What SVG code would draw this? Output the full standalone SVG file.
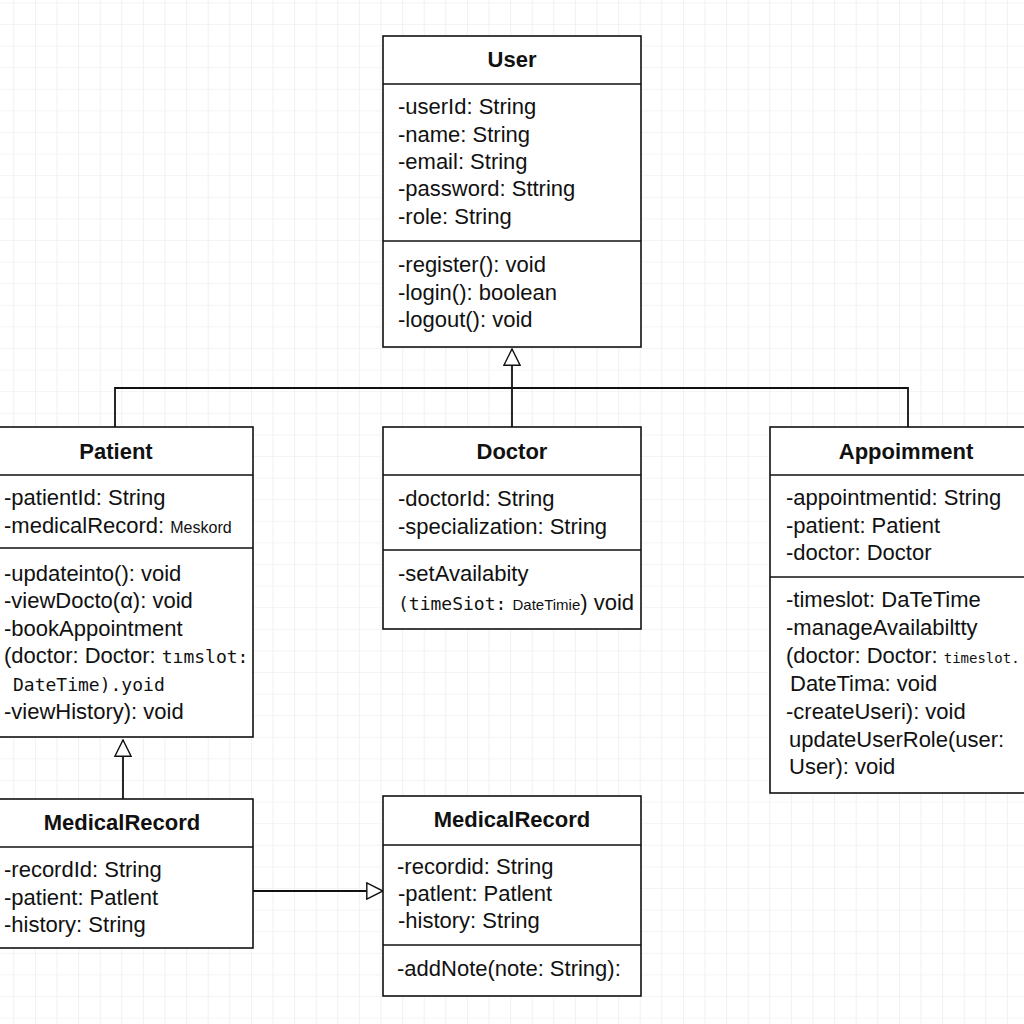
<svg xmlns="http://www.w3.org/2000/svg" width="1024" height="1024" viewBox="0 0 1024 1024">
<defs>
<pattern id="grid" patternUnits="userSpaceOnUse" x="13.3" y="2.4" width="21.6" height="21.6">
<path d="M0 0 H21.6 M0 0 V21.6" fill="none" stroke="#e9e9e9" stroke-width="1.2"/>
</pattern>
<marker id="tri" viewBox="0 0 20 20" refX="19" refY="10" markerWidth="18" markerHeight="18" markerUnits="userSpaceOnUse" orient="auto">
<path d="M1 1 L19 10 L1 19 Z" fill="#fff" stroke="#111" stroke-width="1.6"/>
</marker>
</defs>
<style>
.box{fill:#fff;stroke:#111;stroke-width:1.6}
.div{stroke:#111;stroke-width:1.6}
.t{font-family:"Liberation Sans",Arial,sans-serif;font-size:22px;font-weight:bold;fill:#111;text-anchor:middle}
.a{font-family:"Liberation Sans",Arial,sans-serif;font-size:22px;fill:#111}
.s{font-size:16px}
.m{font-family:"DejaVu Sans Mono",monospace;font-size:18px}
.ms{font-family:"DejaVu Sans Mono",monospace;font-size:14px}
.cn{font-family:"Liberation Sans Narrow","Liberation Sans",sans-serif;font-size:15px}
.conn{fill:none;stroke:#111;stroke-width:1.8}
</style>
<rect width="1024" height="1024" fill="#fff"/>
<rect width="1024" height="1024" fill="url(#grid)"/>

<g id="connectors">
<path class="conn" d="M512 427 V349" marker-end="url(#tri)"/>
<path class="conn" d="M115 427 V388 H908 V427"/>
<path class="conn" d="M123 799 V740" marker-end="url(#tri)"/>
<path class="conn" d="M253 891 H383" marker-end="url(#tri)"/>
</g>

<g id="User">
<rect class="box" x="383" y="36" width="258" height="311"/>
<line class="div" x1="383" y1="84" x2="641" y2="84"/>
<line class="div" x1="383" y1="241" x2="641" y2="241"/>
<text class="t" x="512" y="67">User</text>
<text class="a" x="398" y="114">-userId: String</text>
<text class="a" x="398" y="142">-name: String</text>
<text class="a" x="398" y="169">-email: String</text>
<text class="a" x="398" y="196">-password: Sttring</text>
<text class="a" x="398" y="224">-role: String</text>
<text class="a" x="398" y="272">-register(): void</text>
<text class="a" x="398" y="300">-login(): boolean</text>
<text class="a" x="398" y="327">-logout(): void</text>
</g>

<g id="Patient">
<rect class="box" x="-2" y="427" width="255" height="310"/>
<line class="div" x1="-2" y1="475" x2="253" y2="475"/>
<line class="div" x1="-2" y1="548" x2="253" y2="548"/>
<text class="t" x="116" y="459">Patient</text>
<text class="a" x="4" y="505">-patientId: String</text>
<text class="a" x="4" y="533">-medicalRecord: <tspan class="s">Meskord</tspan></text>
<text class="a" x="4" y="581">-updateinto(): void</text>
<text class="a" x="4" y="608">-viewDocto(α): void</text>
<text class="a" x="4" y="636">-bookAppointment</text>
<text class="a" x="4" y="663">(doctor: Doctor: <tspan class="m" font-size="17">tımslot:</tspan></text>
<text class="a m" x="13" y="691" font-size="19">DateTime).yoid</text>
<text class="a" x="4" y="719">-viewHistory): void</text>
</g>

<g id="Doctor">
<rect class="box" x="383" y="427" width="258" height="202"/>
<line class="div" x1="383" y1="475" x2="641" y2="475"/>
<line class="div" x1="383" y1="550" x2="641" y2="550"/>
<text class="t" x="512" y="459">Doctor</text>
<text class="a" x="398" y="506">-doctorId: String</text>
<text class="a" x="398" y="534">-specialization: String</text>
<text class="a" x="398" y="581">-setAvailabity</text>
<text class="a" x="398" y="610"><tspan class="m">(timeSiot:</tspan> <tspan class="cn">DateTimie</tspan>) void</text>
</g>

<g id="Appointment">
<rect class="box" x="770" y="427" width="262" height="366"/>
<line class="div" x1="770" y1="475" x2="1032" y2="475"/>
<line class="div" x1="770" y1="577" x2="1032" y2="577"/>
<text class="t" x="906" y="459">Appoimment</text>
<text class="a" x="786" y="505">-appointmentid: String</text>
<text class="a" x="786" y="533">-patient: Patient</text>
<text class="a" x="786" y="560">-doctor: Doctor</text>
<text class="a" x="786" y="607">-timeslot: DaTeTime</text>
<text class="a" x="786" y="635">-manageAvailabiltty</text>
<text class="a" x="786" y="663">(doctor: Doctor: <tspan class="ms">timeslot.</tspan></text>
<text class="a" x="790" y="691">DateTima: void</text>
<text class="a" x="786" y="719">-createUseri): void</text>
<text class="a" x="789" y="747">updateUserRole(user:</text>
<text class="a" x="789" y="774">User): void</text>
</g>

<g id="MedicalRecord1">
<rect class="box" x="-2" y="799" width="255" height="149"/>
<line class="div" x1="-2" y1="847" x2="253" y2="847"/>
<text class="t" x="122" y="830">MedicalRecord</text>
<text class="a" x="4" y="877">-recordId: String</text>
<text class="a" x="4" y="905">-patient: Patlent</text>
<text class="a" x="4" y="932">-history: String</text>
</g>

<g id="MedicalRecord2">
<rect class="box" x="383" y="796" width="258" height="200"/>
<line class="div" x1="383" y1="845" x2="641" y2="845"/>
<line class="div" x1="383" y1="945" x2="641" y2="945"/>
<text class="t" x="512" y="827">MedicalRecord</text>
<text class="a" x="397" y="874">-recordid: String</text>
<text class="a" x="398" y="901">-patlent: Patlent</text>
<text class="a" x="398" y="928">-history: String</text>
<text class="a" x="397" y="976">-addNote(note: String):</text>
</g>
</svg>
